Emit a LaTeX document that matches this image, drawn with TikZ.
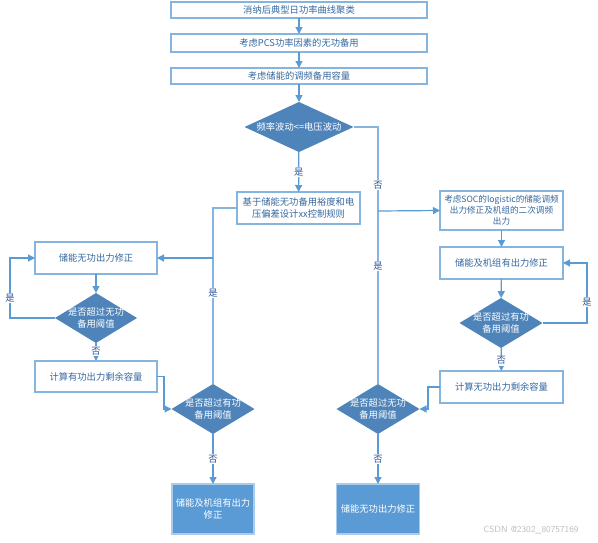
\documentclass[tikz,border=0pt]{standalone}
\usepackage{fontspec}
\setmainfont{Noto Sans CJK SC}
\usetikzlibrary{shapes.geometric,arrows.meta}

\definecolor{lineblue}{HTML}{5B9BD5}
\definecolor{boxline}{HTML}{85B4DF}
\definecolor{diafill}{HTML}{4F84BA}
\definecolor{textblue}{HTML}{3568A0}
\definecolor{labblue}{HTML}{2F5597}

\begin{document}
\begin{tikzpicture}[x=1pt, y=-1pt,
		font=\fontsize{9.3}{11.5}\selectfont,
		procbox/.style={draw=boxline, line width=1.2pt, fill=white, text=textblue, align=center, inner sep=0pt, outer sep=0pt},
		endbox/.style={draw=boxline!70, line width=1.2pt, fill=lineblue, text=white, align=center, inner sep=0pt, outer sep=0pt},
		decide/.style={diamond, fill=diafill, draw=none, inner sep=0pt, outer sep=0pt, minimum width=83pt, minimum height=50pt},
		decidetext/.style={text=white, align=center, font=\fontsize{9.3}{11.5}\selectfont},
		arr/.style={draw=lineblue, line width=1.2pt, -{Triangle[width=7pt,length=7pt]}},
		link/.style={draw=lineblue!75, line width=1.2pt},
		yesno/.style={fill=white, text=labblue, inner sep=1pt}]
		\useasboundingbox (0,0) rectangle (598,542);
		
		\node[procbox, minimum width=256pt, minimum height=16pt] (cluster) at (299,10) {消纳后典型日功率曲线聚类};
		\node[procbox, minimum width=256pt, minimum height=18pt] (pcs) at (299,43) {考虑PCS功率因素的无功备用};
		\node[procbox, minimum width=256pt, minimum height=16pt] (freqres) at (299,76) {考虑储能的调频备用容量};
		\node[decide, minimum width=109pt] (cmp) at (299,127) {};
		\node[decidetext] at (cmp) {频率波动<=电压波动};
		
		\node[procbox, minimum width=123pt, minimum height=32pt] (rule) at (298.5,208) {基于储能无功备用裕度和电\\压偏差设计xx控制规则};
		\node[procbox, minimum width=123pt, minimum height=39pt, font=\fontsize{8.6}{11}\selectfont] (soc) at (501.5,210.5) {考虑SOC的logistic的储能调频\\出力修正及机组的二次调频\\出力};
		
		\node[procbox, minimum width=122pt, minimum height=32pt] (qfix) at (96,258) {储能无功出力修正};
		\node[decide, minimum width=82pt] (qover) at (96,318) {};
		\node[decidetext] at (qover) {是否超过无功\\备用阈值};
		\node[procbox, minimum width=122pt, minimum height=31pt] (pcap) at (96,376.5) {计算有功出力剩余容量};
		\node[decide] (pover) at (213,409) {};
		\node[decidetext] at (pover) {是否超过有功\\备用阈值};
		\node[endbox, minimum width=82pt, minimum height=50pt] (pend) at (213,509) {储能及机组有出力\\修正};
		
		\node[procbox, minimum width=123pt, minimum height=32pt] (pfix) at (501.5,263) {储能及机组有出力修正};
		\node[decide] (pover2) at (501,323) {};
		\node[decidetext] at (pover2) {是否超过有功\\备用阈值};
		\node[procbox, minimum width=123pt, minimum height=32pt] (qcap) at (501.5,387) {计算无功出力剩余容量};
		\node[decide] (qover2) at (378,409) {};
		\node[decidetext] at (qover2) {是否超过无功\\备用阈值};
		\node[endbox, minimum width=83pt, minimum height=50pt] (qend) at (378,509) {储能无功出力修正};
		
		\node[text=black!25, font=\fontsize{9}{10}\sffamily] (mark) at (531,530) {CSDN @2302\_80757169};
		
		\draw[arr] (cluster) -- (pcs);
		\draw[arr] (pcs) -- (freqres);
		\draw[arr] (freqres) -- (cmp);
		\draw[arr] (cmp) -- node[yesno] {是} (rule);
		
		\coordinate (nojoin) at (378,211);
		\draw[link] (cmp.east) -| node[yesno, pos=0.845] {否} (nojoin) -- node[yesno, pos=0.32] {是} (qover2.north);
		\draw[arr] (nojoin) -- (soc.west);
		
		\coordinate (yesjoin) at (213,258);
		\draw[link] (rule.west) -| (yesjoin) -- node[yesno, pos=0.28] {是} (pover.north);
		\draw[arr] (yesjoin) -- (qfix.east);
		
		\draw[arr] (qfix) -- (qover);
		\draw[arr] (qover.west) -- (10,318) node[yesno, pos=1, yshift=20pt] {是} |- (qfix.west);
		\draw[arr] (qover) -- node[yesno, pos=0.45] {否} (pcap);
		\draw[arr] (pcap.east) -- (164,376.5) |- (pover.west);
		\draw[arr] (pover) -- node[yesno] {否} (pend);
		
		\draw[arr] (soc) -- (pfix);
		\draw[arr] (pfix) -- (pover2);
		\draw[arr] (pover2.east) -- (587,323) node[yesno, pos=1, yshift=21pt] {是} |- (pfix.east);
		\draw[arr] (pover2) -- node[yesno, pos=0.55] {否} (qcap);
		\draw[arr] (qcap.west) -- (428,387) |- (qover2.east);
		\draw[arr] (qover2) -- node[yesno] {否} (qend);
\end{tikzpicture}
\end{document}
